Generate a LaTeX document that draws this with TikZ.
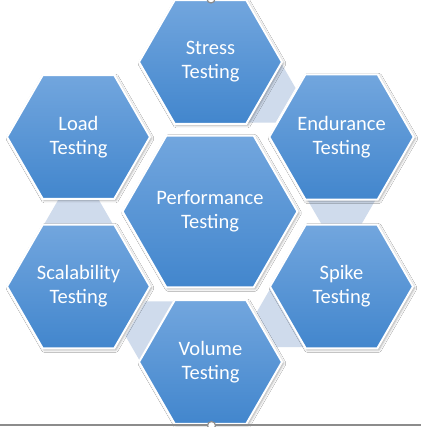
\documentclass[tikz,border=0pt]{standalone}
\usepackage{fontspec}
\setmainfont{Carlito}
\usetikzlibrary{shapes.geometric,shadows.blur}
\definecolor{hexTop}{RGB}{114,166,222}
\definecolor{hexBot}{RGB}{66,134,205}
\definecolor{bandCol}{RGB}{207,219,236}
\definecolor{handleGray}{RGB}{140,140,140}
\tikzset{
  hexbase/.style={regular polygon, regular polygon sides=6, inner sep=0pt, outer sep=0pt},
  bighex/.style={hexbase, minimum size=143pt, draw=white, line width=2pt,
    top color=hexTop, bottom color=hexBot,
    blur shadow={shadow xshift=1.5pt, shadow yshift=-1.5pt, shadow blur radius=2.5pt, shadow opacity=35},
    text=white, align=center, font=\fontsize{20.5}{24}\selectfont},
  centerhex/.style={bighex, minimum size=174pt},
  bandhex/.style={hexbase, minimum size=80pt, fill=bandCol, draw=none},
  handle/.style={circle, fill=white, draw=handleGray, line width=1.2pt, minimum size=8pt, inner sep=0pt},
}
\begin{document}
\begin{tikzpicture}[x=1pt,y=-1pt]
\useasboundingbox (0,0) rectangle (421,427);
\fill[white] (0,0) rectangle (421,427);
% light transition hexagons
\node[bandhex] (t1) at (255.5,88) {};
\node[bandhex] (t2) at (341.5,189.5) {};
\node[bandhex] (t3) at (296.5,312.5) {};
\node[bandhex] (t4) at (165.5,336) {};
\node[bandhex] (t5) at (78.5,234) {};
% outer hexagons
\node[bighex] (stress) at (210.5,62) {Stress\\Testing};
\node[bighex] (endur) at (341.5,137) {Endurance\\Testing};
\node[bighex] (spike) at (341.5,286.5) {Spike\\Testing};
\node[bighex] (volume) at (210.5,362) {Volume\\Testing};
\node[bighex] (scal) at (78.5,286.5) {Scalability\\Testing};
\node[bighex] (load) at (78.5,137) {Load\\Testing};
% center
\node[centerhex] (perf) at (210,211.5) {Performance\\Testing};
% screenshot frame details
\coordinate (bl) at (0,425);
\coordinate (br) at (421,425);
\draw[handleGray, line width=1.5pt] (bl) -- (br);
\node[handle] (htop) at (211,-1) {};
\node[handle] (hbot) at (211.5,425.5) {};
\end{tikzpicture}
\end{document}
